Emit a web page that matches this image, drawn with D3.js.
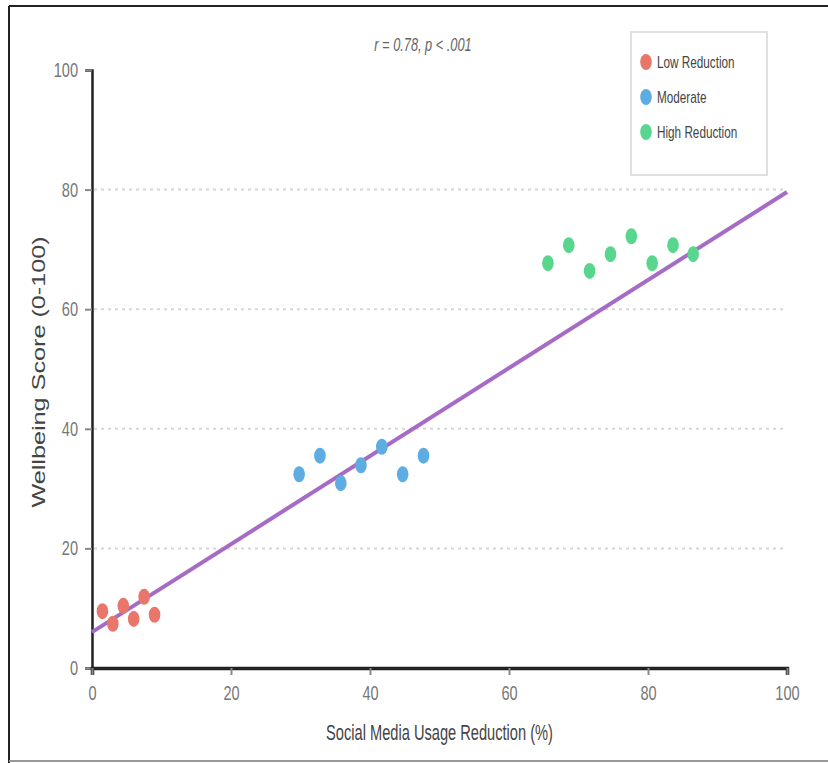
<!DOCTYPE html>
<html>
<head>
<meta charset="utf-8">
<script src="https://cdn.jsdelivr.net/npm/d3@7"></script>
<style>
  html, body { margin: 0; padding: 0; background: #fff; }
  svg { display: block; }
  text { font-family: "Liberation Sans", Arial, sans-serif; }
</style>
</head>
<body>
<script>
// ---- data ----
const seriesNames = ["Low Reduction", "Moderate", "High Reduction"];
const seriesColors = ["#e8766b", "#5dade2", "#58d68d"];
const lowX  = [1.5, 3, 4.5, 6, 7.5, 9];
const lowY  = [9.5, 7.4, 10.4, 8.2, 11.9, 8.9];
const modX  = [29.8, 32.8, 35.8, 38.7, 41.7, 44.7, 47.7];
const modY  = [32.4, 35.5, 30.9, 33.9, 37, 32.4, 35.5];
const highX = [65.6, 68.6, 71.6, 74.6, 77.6, 80.6, 83.6, 86.5];
const highY = [67.7, 70.7, 66.4, 69.2, 72.2, 67.7, 70.7, 69.2];
const trendX = [0, 100];
const trendY = [6, 79.6];
const xTicks = [0, 20, 40, 60, 80, 100];
const yTicks = [0, 20, 40, 60, 80, 100];
const annotation = "r = 0.78, p < .001";
const xTitle = "Social Media Usage Reduction (%)";
const yTitle = "Wellbeing Score (0-100)";

(function () {
const W = 828, H = 763;
const mLeft = 92, mRight = 787, mTop = 70, mBottom = 668;
const condense = 0.71;

const svg = d3.select("body").append("svg").attr("width", W).attr("height", H);

// frame of the screenshot
svg.append("line").attr("x1", 9).attr("x2", W).attr("y1", 6).attr("y2", 6)
  .attr("stroke", "#222").attr("stroke-width", 2);
svg.append("line").attr("x1", 9).attr("x2", 9).attr("y1", 6).attr("y2", H)
  .attr("stroke", "#222").attr("stroke-width", 2);
svg.append("line").attr("x1", 9).attr("x2", W).attr("y1", 761).attr("y2", 761)
  .attr("stroke", "#999").attr("stroke-width", 2);

const x = d3.scaleLinear().domain([0, 100]).range([mLeft, mRight]);
const y = d3.scaleLinear().domain([0, 100]).range([mBottom, mTop]);

function squeeze(sel, f) {
  sel.each(function () {
    const len = this.getComputedTextLength();
    d3.select(this).attr("textLength", len * f).attr("lengthAdjust", "spacingAndGlyphs");
  });
}

// grid
svg.append("g").selectAll("line")
  .data(yTicks.filter(d => d > 0 && d < 100))
  .join("line")
  .attr("x1", mLeft + 2).attr("x2", mRight)
  .attr("y1", d => y(d)).attr("y2", d => y(d))
  .attr("stroke", "#d6d6d6").attr("stroke-width", 2)
  .attr("stroke-dasharray", "3,4");

// y axis
const yAxis = svg.append("g").attr("transform", `translate(${mLeft},0)`)
  .call(d3.axisLeft(y).tickValues(yTicks).tickSize(7).tickPadding(7));
yAxis.select(".domain").attr("stroke", "#222").attr("stroke-width", 2.5);
yAxis.selectAll(".tick line").attr("stroke", "#888").attr("stroke-width", 2);
yAxis.selectAll(".tick text").attr("fill", "#777").attr("font-size", 20.5)
  .attr("font-family", "Liberation Sans, Arial, sans-serif").call(squeeze, condense);

// x axis
const xAxis = svg.append("g").attr("transform", `translate(0,${mBottom})`)
  .call(d3.axisBottom(x).tickValues(xTicks).tickSize(7).tickPadding(10));
xAxis.select(".domain").attr("stroke", "#222").attr("stroke-width", 3.5);
xAxis.selectAll(".tick line").attr("stroke", "#888").attr("stroke-width", 2);
xAxis.selectAll(".tick text").attr("fill", "#777").attr("font-size", 20.5)
  .attr("font-family", "Liberation Sans, Arial, sans-serif").call(squeeze, condense);

// trend line
svg.append("path")
  .datum(trendX.map((d, i) => [d, trendY[i]]))
  .attr("d", d3.line().x(d => x(d[0])).y(d => y(d[1])))
  .attr("stroke", "#a66bc4").attr("stroke-width", 4).attr("fill", "none");

// points
const groups = [
  { xs: lowX, ys: lowY, c: seriesColors[0] },
  { xs: modX, ys: modY, c: seriesColors[1] },
  { xs: highX, ys: highY, c: seriesColors[2] }
];
groups.forEach(g => {
  svg.append("g").selectAll("ellipse")
    .data(g.xs.map((d, i) => [d, g.ys[i]]))
    .join("ellipse")
    .attr("cx", d => x(d[0])).attr("cy", d => y(d[1]))
    .attr("rx", 5.8).attr("ry", 8)
    .attr("fill", g.c);
});

// annotation
svg.append("text").attr("x", 423).attr("y", 51).attr("text-anchor", "middle")
  .attr("font-size", 18).attr("font-style", "italic").attr("fill", "#666")
  .text(annotation).call(squeeze, condense);

// axis titles
svg.append("text").attr("x", (mLeft + mRight) / 2).attr("y", 740).attr("text-anchor", "middle")
  .attr("font-size", 22.5).attr("fill", "#444")
  .text(xTitle).call(squeeze, 0.65);

svg.append("text")
  .attr("transform", `translate(45,${(mTop + mBottom) / 2 + 3}) rotate(-90)`)
  .attr("text-anchor", "middle")
  .attr("font-size", 18).attr("fill", "#444")
  .text(yTitle).call(squeeze, 1.4);

// legend
const lg = svg.append("g");
lg.append("rect").attr("x", 631).attr("y", 32).attr("width", 136).attr("height", 143)
  .attr("fill", "#fff").attr("stroke", "#e0e0e0").attr("stroke-width", 2);
const items = lg.selectAll("g.item").data(seriesNames).join("g").attr("class", "item")
  .attr("transform", (d, i) => `translate(646,${62 + i * 35})`);
items.append("ellipse").attr("rx", 5.8).attr("ry", 8).attr("fill", (d, i) => seriesColors[i]);
items.append("text").attr("x", 11).attr("y", 6).attr("font-size", 17).attr("fill", "#444")
  .text(d => d).call(squeeze, 0.69);
})();
</script>
</body>
</html>
